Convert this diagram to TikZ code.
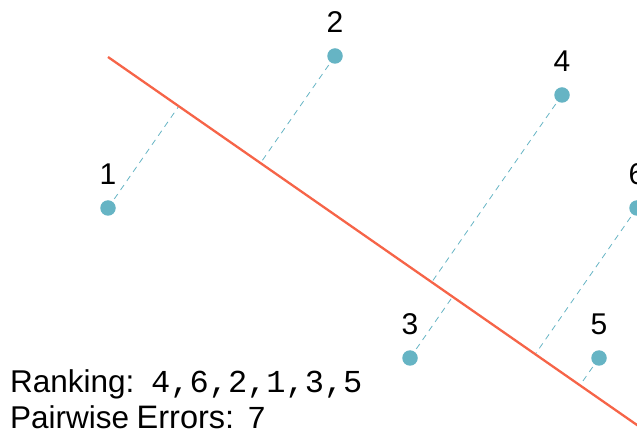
\documentclass[tikz,border=0pt]{standalone}
\usepackage{fontspec}
\setmainfont{Liberation Sans}
\setmonofont{Liberation Mono}
\usetikzlibrary{calc}
\definecolor{redline}{RGB}{246,100,72}
\definecolor{teal}{RGB}{102,180,196}
\tikzset{
  pt/.style={circle, fill=teal, inner sep=0pt, minimum size=15.5pt},
  proj/.style={teal, line width=0.8pt, dash pattern=on 6pt off 5pt},
  lab/.style={font=\fontsize{30}{34}\selectfont, anchor=base, inner sep=0pt},
  info/.style={font=\fontsize{31.5}{36}\selectfont, anchor=base west, inner sep=0pt},
  code/.style={font=\fontsize{32}{36}\selectfont\ttfamily, anchor=base west, inner sep=0pt},
}
\begin{document}
\begin{tikzpicture}[x=1pt,y=-1pt]
\useasboundingbox (0,0) rectangle (637,435);
\clip (0,0) rectangle (637,435);
\coordinate (la) at (108,57);
\coordinate (lb) at (637,425);
\coordinate (p1) at (108,208);
\coordinate (p2) at (335,56);
\coordinate (p3) at (410,358);
\coordinate (p4) at (562,95);
\coordinate (p5) at (599,358);
\coordinate (p6) at (637,208);
\foreach \i in {1,...,6}{
  \coordinate (f\i) at ($(la)!(p\i)!(lb)$);
  \draw[proj] (p\i) -- (f\i);
}
\draw[redline, line width=2.3pt] (la) -- ($(la)!1.1!(lb)$);
\foreach \i in {1,...,6}{
  \node[pt] (n\i) at (p\i) {};
  \node[lab] (l\i) at ($(p\i)+(0,-23.5)$) {\i};
}
\node[info] (rank) at (10,392) {Ranking:};
\node[code] (rankv) at (151,392) {4,6,2,1,3,5};
\node[info] (err1) at (10,428) {Pairwise};
\node[info, font=\fontsize{32.5}{36}\selectfont] (err2) at (136.5,428) {Errors:};
\node[code] (errv) at (247,428) {7};
\end{tikzpicture}
\end{document}
